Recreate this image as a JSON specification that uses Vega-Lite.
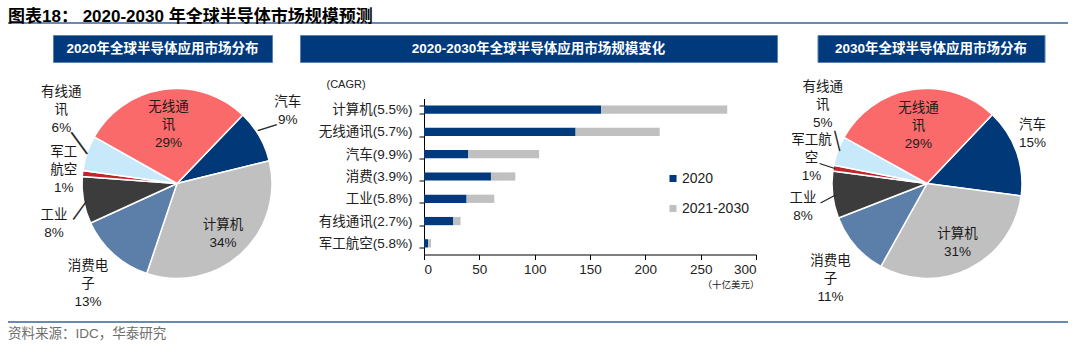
{
  "$schema": "https://vega.github.io/schema/vega-lite/v6.json",
  "background": "white",
  "padding": {"left": 8, "top": 2, "right": 12, "bottom": 0},
  "config": {
    "font": "Liberation Sans, Noto Sans CJK SC",
    "view": {"stroke": null},
    "title": {"font": "Liberation Sans, Noto Sans CJK SC"},
    "text": {"fontSize": 13.5, "lineHeight": 18, "lineBreak": "\n", "baseline": "middle", "color": "#1a1a1a"}
  },
  "datasets": {
    "pie2020": [
      {"name": "汽车", "pct": 9, "ord": 1, "label": "汽车\n9%"},
      {"name": "计算机", "pct": 34, "ord": 2, "label": "计算机\n34%"},
      {"name": "消费电子", "pct": 13, "ord": 3, "label": "消费电\n子\n13%"},
      {"name": "工业", "pct": 8, "ord": 4, "label": "工业\n8%"},
      {"name": "军工航空", "pct": 1, "ord": 5, "label": "军工\n航空\n1%"},
      {"name": "有线通讯", "pct": 6, "ord": 6, "label": "有线通\n讯\n6%"},
      {"name": "无线通讯", "pct": 29, "ord": 7, "label": "无线通\n讯\n29%"}
    ],
    "pie2030": [
      {"name": "汽车", "pct": 15, "ord": 1, "label": "汽车\n15%"},
      {"name": "计算机", "pct": 31, "ord": 2, "label": "计算机\n31%"},
      {"name": "消费电子", "pct": 11, "ord": 3, "label": "消费电\n子\n11%"},
      {"name": "工业", "pct": 8, "ord": 4, "label": "工业\n8%"},
      {"name": "军工航空", "pct": 1, "ord": 5, "label": "军工航\n空\n1%"},
      {"name": "有线通讯", "pct": 5, "ord": 6, "label": "有线通\n讯\n5%"},
      {"name": "无线通讯", "pct": 29, "ord": 7, "label": "无线通\n讯\n29%"}
    ],
    "bars": [
      {"cat": "计算机(5.5%)", "s": "2020", "v": 160},
      {"cat": "计算机(5.5%)", "s": "2021-2030", "v": 114},
      {"cat": "无线通讯(5.7%)", "s": "2020", "v": 137},
      {"cat": "无线通讯(5.7%)", "s": "2021-2030", "v": 76},
      {"cat": "汽车(9.9%)", "s": "2020", "v": 40},
      {"cat": "汽车(9.9%)", "s": "2021-2030", "v": 64},
      {"cat": "消费(3.9%)", "s": "2020", "v": 60.5},
      {"cat": "消费(3.9%)", "s": "2021-2030", "v": 22},
      {"cat": "工业(5.8%)", "s": "2020", "v": 38.5},
      {"cat": "工业(5.8%)", "s": "2021-2030", "v": 25},
      {"cat": "有线通讯(2.7%)", "s": "2020", "v": 26.5},
      {"cat": "有线通讯(2.7%)", "s": "2021-2030", "v": 6.5},
      {"cat": "军工航空(5.8%)", "s": "2020", "v": 3.6},
      {"cat": "军工航空(5.8%)", "s": "2021-2030", "v": 2.7}
    ]
  },
  "spacing": -23,
  "vconcat": [
    {
      "width": 1060, "height": 2,
      "view": {"fill": "#6a8ab4", "stroke": null},
      "data": {"values": []},
      "mark": {"type": "text"},
      "title": {"text": "图表18：  2020-2030 年全球半导体市场规模预测", "anchor": "start", "fontSize": 17, "fontWeight": "bold", "color": "#000000", "offset": -4}
    },
    {
      "spacing": -60.5,
      "vconcat": [
        {
          "spacing": 38.5,
          "hconcat": [
            {
              "bounds": "flush",
              "spacing": 28,
              "hconcat": [
                {"width": 17, "height": 27, "data": {"values": []}, "mark": {"type": "text"}},
                {
                  "width": 219, "height": 27,
                  "view": {"fill": "#003a7d", "stroke": "#5b80b2"},
                  "data": {"values": [{"t": "2020年全球半导体应用市场分布"}]},
                  "mark": {"type": "text", "color": "white", "fontWeight": "bold"},
                  "encoding": {"text": {"field": "t", "type": "nominal"}}
                },
                {
                  "width": 477, "height": 27,
                  "view": {"fill": "#003a7d", "stroke": "#5b80b2"},
                  "data": {"values": [{"t": "2020-2030年全球半导体应用市场规模变化"}]},
                  "mark": {"type": "text", "color": "white", "fontWeight": "bold"},
                  "encoding": {"text": {"field": "t", "type": "nominal"}}
                }
              ]
            },
            {
              "width": 227, "height": 27,
              "view": {"fill": "#003a7d", "stroke": "#5b80b2"},
              "data": {"values": [{"t": "2030年全球半导体应用市场分布"}]},
              "mark": {"type": "text", "color": "white", "fontWeight": "bold"},
              "encoding": {"text": {"field": "t", "type": "nominal"}}
            }
          ]
        },
        {
          "spacing": 11.5,
          "vconcat": [
            {
              "bounds": "flush",
              "spacing": 78,
              "resolve": {"scale": {"color": "independent", "theta": "independent"}, "legend": {"color": "independent"}},
              "hconcat": [
                {
                  "width": 338, "height": 170,
                  "data": {"name": "pie2020"},
                  "encoding": {
                    "theta": {"field": "pct", "type": "quantitative", "stack": true, "scale": {"range": [0.7645, 7.0477]}},
                    "order": {"field": "ord", "type": "quantitative"},
                    "color": {"field": "name", "type": "nominal", "legend": null,
                      "scale": {"domain": ["汽车", "计算机", "消费电子", "工业", "军工航空", "有线通讯", "无线通讯"],
                                "range": ["#003878", "#c0c0c0", "#5b7fa8", "#3c3c3c", "#c0262b", "#c8e9f9", "#fa6a6a"]}}
                  },
                  "layer": [
                    {"mark": {"type": "arc", "radius": 95, "stroke": "white", "strokeWidth": 1.5}},
                    {"mark": {"type": "text", "radius": 58, "dy": -19},
                     "encoding": {"text": {"condition": {"test": "datum.name==='无线通讯'", "field": "label", "type": "nominal"}, "value": ""}, "color": {"value": "#1a1a1a"}, "detail": {"field": "name", "type": "nominal"}}},
                    {"mark": {"type": "text", "radius": 68, "dy": -9},
                     "encoding": {"text": {"condition": {"test": "datum.name==='计算机'", "field": "label", "type": "nominal"}, "value": ""}, "color": {"value": "#1a1a1a"}, "detail": {"field": "name", "type": "nominal"}}},
                    {"mark": {"type": "text", "radius": 133, "dy": -16},
                     "encoding": {"text": {"condition": {"test": "datum.name==='消费电子'", "field": "label", "type": "nominal"}, "value": ""}, "color": {"value": "#1a1a1a"}, "detail": {"field": "name", "type": "nominal"}}},
                    {"mark": {"type": "text", "radius": 114, "dy": -20},
                     "encoding": {"text": {"condition": {"test": "datum.name==='军工航空'", "field": "label", "type": "nominal"}, "value": ""}, "color": {"value": "#1a1a1a"}, "detail": {"field": "name", "type": "nominal"}}},
                    {"mark": {"type": "text", "radius": 128, "dy": -18},
                     "encoding": {"text": {"condition": {"test": "datum.name==='汽车'", "field": "label", "type": "nominal"}, "value": ""}, "color": {"value": "#1a1a1a"}, "detail": {"field": "name", "type": "nominal"}}},
                    {"mark": {"type": "text", "radius": 125, "dy": 9},
                     "encoding": {"text": {"condition": {"test": "datum.name==='工业'", "field": "label", "type": "nominal"}, "value": ""}, "color": {"value": "#1a1a1a"}, "detail": {"field": "name", "type": "nominal"}}},
                    {"mark": {"type": "text", "radius": 122, "dy": -53},
                     "encoding": {"text": {"condition": {"test": "datum.name==='有线通讯'", "field": "label", "type": "nominal"}, "value": ""}, "color": {"value": "#1a1a1a"}, "detail": {"field": "name", "type": "nominal"}}},
                    {"mark": {"type": "text", "radius": 102, "dx": -7, "dy": -5, "angle": 54, "fontSize": 27, "font": "Liberation Sans"},
                     "encoding": {"text": {"condition": {"test": "datum.name==='有线通讯'", "value": "—"}, "value": ""}, "color": {"value": "#2a2a2a"}, "detail": {"field": "name", "type": "nominal"}}},
                    {"mark": {"type": "text", "radius": 100, "dx": -7, "dy": 5, "angle": -54, "fontSize": 22, "font": "Liberation Sans"},
                     "encoding": {"text": {"condition": {"test": "datum.name==='工业'", "value": "—"}, "value": ""}, "color": {"value": "#2a2a2a"}, "detail": {"field": "name", "type": "nominal"}}},
                    {"mark": {"type": "text", "radius": 104, "dx": 1.4, "dy": -4.5, "angle": -17.5, "fontSize": 20, "font": "Liberation Sans"},
                     "encoding": {"text": {"condition": {"test": "datum.name==='汽车'", "value": "—"}, "value": ""}, "color": {"value": "#2a2a2a"}, "detail": {"field": "name", "type": "nominal"}}}
                  ]
                },
                {
                  "width": 332, "height": 156,
                  "data": {"name": "bars"},
                  "mark": {"type": "bar"},
                  "encoding": {
                    "y": {"field": "cat", "type": "nominal",
                      "sort": ["计算机(5.5%)", "无线通讯(5.7%)", "汽车(9.9%)", "消费(3.9%)", "工业(5.8%)", "有线通讯(2.7%)", "军工航空(5.8%)"],
                      "scale": {"paddingInner": 0.63, "paddingOuter": 0.315},
                      "axis": {"title": "(CAGR)", "titleAngle": 0, "titleAlign": "left", "titleBaseline": "middle", "titleX": -98, "titleY": -14,
                        "titleFontSize": 11, "titleFontWeight": "normal", "titleColor": "#222222",
                        "labelFontSize": 13.5, "labelColor": "#222222", "labelPadding": 7, "tickBand": "extent",
                        "domainColor": "#000000", "tickColor": "#000000", "tickSize": 5}},
                    "x": {"field": "v", "type": "quantitative", "stack": true, "scale": {"domain": [0, 300]},
                      "axis": {"values": [0, 50, 100, 150, 200, 250, 300], "grid": false, "title": "（十亿美元）",
                        "titleFontSize": 9.5, "titleFontWeight": "normal", "titleColor": "#222222",
                        "titleX": 335, "titleY": 30, "titleAlign": "right", "titleBaseline": "middle",
                        "labelFontSize": 13.5, "labelColor": "#222222", "labelPadding": 3,
                        "domainColor": "#000000", "tickColor": "#000000", "tickSize": 5}},
                    "color": {"field": "s", "type": "nominal",
                      "scale": {"domain": ["2020", "2021-2030"], "range": ["#003a7d", "#c0c0c0"]},
                      "legend": {"title": null, "orient": "none", "legendX": 242, "legendY": 73, "symbolType": "square", "symbolSize": 50,
                        "symbolStrokeWidth": 0, "labelFontSize": 14, "labelColor": "#222222", "labelOffset": 2, "rowPadding": 16}},
                    "order": {"field": "s", "type": "nominal", "sort": "ascending"}
                  }
                },
                {
                  "width": 186, "height": 170,
                  "data": {"name": "pie2030"},
                  "encoding": {
                    "theta": {"field": "pct", "type": "quantitative", "stack": true, "scale": {"range": [0.7592, 7.0424]}},
                    "order": {"field": "ord", "type": "quantitative"},
                    "color": {"field": "name", "type": "nominal", "legend": null,
                      "scale": {"domain": ["汽车", "计算机", "消费电子", "工业", "军工航空", "有线通讯", "无线通讯"],
                                "range": ["#003878", "#c0c0c0", "#5b7fa8", "#3c3c3c", "#c0262b", "#c8e9f9", "#fa6a6a"]}}
                  },
                  "layer": [
                    {"mark": {"type": "arc", "radius": 95, "stroke": "white", "strokeWidth": 1.5}},
                    {"mark": {"type": "text", "radius": 57, "dy": -19},
                     "encoding": {"text": {"condition": {"test": "datum.name==='无线通讯'", "field": "label", "type": "nominal"}, "value": ""}, "color": {"value": "#1a1a1a"}, "detail": {"field": "name", "type": "nominal"}}},
                    {"mark": {"type": "text", "radius": 68, "dy": -10},
                     "encoding": {"text": {"condition": {"test": "datum.name==='计算机'", "field": "label", "type": "nominal"}, "value": ""}, "color": {"value": "#1a1a1a"}, "detail": {"field": "name", "type": "nominal"}}},
                    {"mark": {"type": "text", "radius": 112, "dy": -21},
                     "encoding": {"text": {"condition": {"test": "datum.name==='汽车'", "field": "label", "type": "nominal"}, "value": ""}, "color": {"value": "#1a1a1a"}, "detail": {"field": "name", "type": "nominal"}}},
                    {"mark": {"type": "text", "radius": 128, "dy": -7},
                     "encoding": {"text": {"condition": {"test": "datum.name==='消费电子'", "field": "label", "type": "nominal"}, "value": ""}, "color": {"value": "#1a1a1a"}, "detail": {"field": "name", "type": "nominal"}}},
                    {"mark": {"type": "text", "radius": 125, "dy": -1},
                     "encoding": {"text": {"condition": {"test": "datum.name==='工业'", "field": "label", "type": "nominal"}, "value": ""}, "color": {"value": "#1a1a1a"}, "detail": {"field": "name", "type": "nominal"}}},
                    {"mark": {"type": "text", "radius": 117, "dy": -25},
                     "encoding": {"text": {"condition": {"test": "datum.name==='军工航空'", "field": "label", "type": "nominal"}, "value": ""}, "color": {"value": "#1a1a1a"}, "detail": {"field": "name", "type": "nominal"}}},
                    {"mark": {"type": "text", "radius": 111, "dy": -58},
                     "encoding": {"text": {"condition": {"test": "datum.name==='有线通讯'", "field": "label", "type": "nominal"}, "value": ""}, "color": {"value": "#1a1a1a"}, "detail": {"field": "name", "type": "nominal"}}},
                    {"mark": {"type": "text", "radius": 95, "dx": -9.9, "dy": -2.5, "angle": 76, "fontSize": 21, "font": "Liberation Sans"},
                     "encoding": {"text": {"condition": {"test": "datum.name==='有线通讯'", "value": "—"}, "value": ""}, "color": {"value": "#2a2a2a"}, "detail": {"field": "name", "type": "nominal"}}},
                    {"mark": {"type": "text", "radius": 101, "dx": -0.7, "dy": -2.1, "angle": 18.4, "fontSize": 16, "font": "Liberation Sans"},
                     "encoding": {"text": {"condition": {"test": "datum.name==='军工航空'", "value": "—"}, "value": ""}, "color": {"value": "#2a2a2a"}, "detail": {"field": "name", "type": "nominal"}}},
                    {"mark": {"type": "text", "radius": 100, "dx": -1.4, "dy": 2.6, "angle": -28, "fontSize": 17, "font": "Liberation Sans"},
                     "encoding": {"text": {"condition": {"test": "datum.name==='工业'", "value": "—"}, "value": ""}, "color": {"value": "#2a2a2a"}, "detail": {"field": "name", "type": "nominal"}}}
                  ]
                }
              ]
            },
            {
              "width": 1060, "height": 2,
              "view": {"fill": "#6a8ab4", "stroke": null},
              "data": {"values": []},
              "mark": {"type": "text"},
              "title": {"text": "资料来源：IDC，华泰研究", "orient": "bottom", "anchor": "start", "fontSize": 13.5, "fontWeight": "normal", "color": "#6e6e6e", "offset": 4}
            }
          ]
        }
      ]
    }
  ]
}
